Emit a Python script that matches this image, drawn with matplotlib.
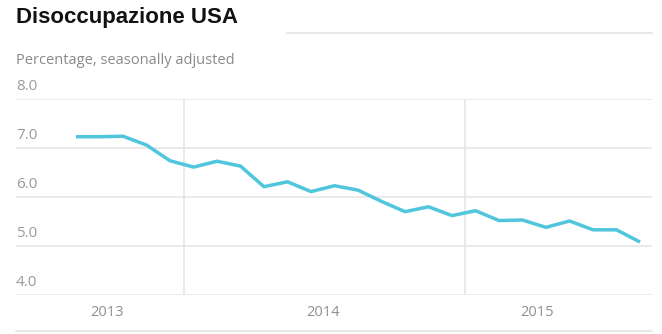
import matplotlib.pyplot as plt
from matplotlib.lines import Line2D

# Tasso di disoccupazione mensile (%)
months = list(range(25))
rate = [7.22, 7.22, 7.23, 7.05, 6.73, 6.60, 6.72, 6.62, 6.20, 6.30,
        6.10, 6.22, 6.13, 5.90, 5.69, 5.79, 5.61, 5.71, 5.51, 5.52,
        5.37, 5.50, 5.32, 5.32, 5.07]
yticks = [4.0, 5.0, 6.0, 7.0, 8.0]
years = ["2013", "2014", "2015"]
year_pos = [1.32, 10.52, 19.62]
year_breaks = [4.6, 16.55]

W, H = 662, 334
fig = plt.figure(figsize=(W / 100, H / 100), dpi=100)
fig.patch.set_facecolor("white")

# axes spans from the 8.0 gridline to the 4.0 gridline
left, right = 16 / W, 652 / W
top, bottom = 1 - 98.5 / H, 1 - 294.5 / H
ax = fig.add_axes([left, bottom, right - left, top - bottom])
ax.set_xlim(-2.553, 24.51)
ax.set_ylim(4.0, 8.0)
for s in ax.spines.values():
    s.set_visible(False)
ax.set_xticks([])
ax.set_yticks([])

grid_c = "#e4e4e4"
for y in yticks:
    ax.axhline(y, color=grid_c, lw=1.1, zorder=1)
for x in year_breaks:
    ax.axvline(x, color=grid_c, lw=1.1, zorder=1)

ax.plot(months, rate, color="#4fc6dc", lw=2.5, solid_joinstyle="round",
        solid_capstyle="butt", zorder=3)

# y labels sit just above their gridlines
for y in yticks:
    ax.annotate(f"{y:.1f}", xy=(0, y), xycoords=("axes fraction", "data"),
                xytext=(0, 3.5), textcoords="offset points",
                ha="left", va="bottom", fontsize=11, color="#9a9a9a",
                family="Open Sans")

for lab, x in zip(years, year_pos):
    ax.annotate(lab, xy=(x, 4.0), xycoords="data", xytext=(0, -13),
                textcoords="offset points", ha="center", va="center",
                fontsize=10.5, color="#8f8f8f", family="Open Sans")

fig.text(16 / W, 1 - 17 / H, "Disoccupazione USA", ha="left", va="center",
         fontsize=16, fontweight="bold", color="#111111",
         family="Liberation Sans")
fig.text(16 / W, 1 - 61 / H, "Percentage, seasonally adjusted", ha="left",
         va="center", fontsize=10.5, color="#8a8a8a", family="Open Sans")

# decorative rules above and below the chart
fig.add_artist(Line2D([287 / W, 652 / W], [1 - 33 / H, 1 - 33 / H],
                      color=grid_c, lw=1.2))
fig.add_artist(Line2D([16 / W, 652 / W], [1 - 330.5 / H, 1 - 330.5 / H],
                      color=grid_c, lw=1.2))

fig.savefig("out.png", dpi=100, facecolor="white")
